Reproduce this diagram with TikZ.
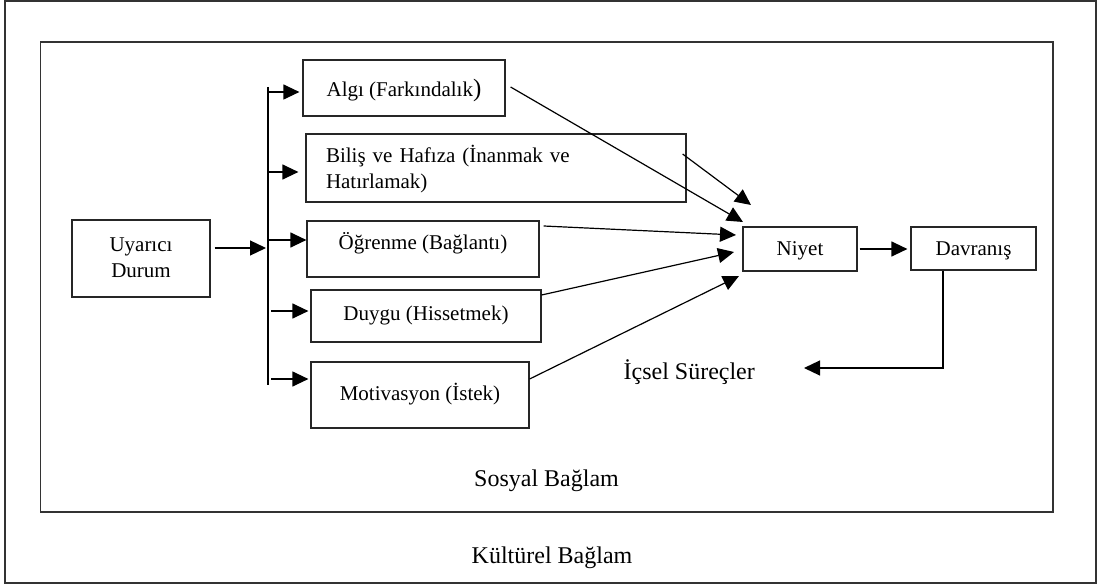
\documentclass[tikz,border=0pt]{standalone}
\usepackage{fontspec}
\setmainfont{Liberation Serif}
\usetikzlibrary{arrows.meta,calc}
\begin{document}
\begin{tikzpicture}[x=1pt,y=-1pt,
  line width=1.2pt,
  box/.style={draw=black!85, line width=1.2pt, inner sep=0pt,
    font=\fontsize{21}{25.5}\selectfont},
  arr/.style={draw=black, line width=1.2pt, -{Triangle[length=16pt,width=15pt]}},
  ctx/.style={font=\fontsize{24}{28}\selectfont, anchor=base, inner sep=0pt}]
\useasboundingbox (0,0) rectangle (1099,585);

% context frames
\draw[black!80, line width=1.3pt] (5,1) rectangle (1096,583);
\draw[black!80, line width=1.3pt] (40.5,42) rectangle (1053,512);
\node[ctx] (sosyal) at (546.5,486) {Sosyal Bağlam};
\node[ctx] (kultur) at (552,563) {Kültürel Bağlam};

% boxes
\node[box, minimum width=138pt, minimum height=77pt, align=center,
  text height=40pt, text depth=3pt] (uy) at (141,258.5) {Uyarıcı\\Durum};
\node[box, minimum width=202pt, minimum height=56pt,
  text height=20pt, text depth=2pt] (algi) at (404,88)
  {Algı (Farkındalık{\fontsize{25}{25}\selectfont)}};
\node[box, minimum width=380pt, minimum height=68pt, text width=340pt,
  inner xsep=20pt, align=left, text height=16pt, text depth=26pt] (bilis) at (496,168)
  {Biliş ve Hafıza (İnanmak ve\\Hatırlamak)};
\node[box, minimum width=232pt, minimum height=56pt,
  text height=16pt, text depth=14pt] (ogr) at (423,249) {Öğrenme (Bağlantı)};
\node[box, minimum width=230pt, minimum height=52pt,
  text height=16pt, text depth=8pt] (duygu) at (426,316) {Duygu (Hissetmek)};
\node[box, minimum width=218pt, minimum height=66pt,
  text height=16pt, text depth=6pt] (motiv) at (420,395) {Motivasyon (İstek)};
\node[box, minimum width=114pt, minimum height=44pt,
  text height=16pt, text depth=4pt] (niyet) at (800,249) {Niyet};
\node[box, minimum width=125pt, minimum height=43pt,
  text height=16pt, text depth=3pt] (davr) at (973.5,248.5) {Davranış};
\node[ctx, anchor=base west] (icsel) at (623,379) {İçsel Süreçler};

% distribution bus
\coordinate (bt) at (268,87);
\coordinate (bb) at (268,385);
\coordinate (bin) at (268,248);
\coordinate (b1) at (268,92);
\coordinate (b2) at (268,172);
\coordinate (b3) at (268,240);
\coordinate (b4) at (271,311);
\coordinate (b5) at (271,379);
\draw[black] (bt) -- (bb);
\draw[arr, shorten >=2pt] ([xshift=4pt,yshift=10.5pt]uy.east) -- (bin);
\draw[arr, shorten >=3pt] (b1) -- (b1 -| algi.west);
\draw[arr, shorten >=7pt] (b2) -- (b2 -| bilis.west);
\draw[arr] (b3) -- (b3 -| ogr.west);
\draw[arr, shorten >=2pt] (b4) -- (b4 -| duygu.west);
\draw[arr, shorten >=2pt] (b5) -- (b5 -| motiv.west);

% arrows converging on Niyet
\coordinate (n1) at (743,222);
\coordinate (n2) at (751,205);
\coordinate (n3) at (736,235);
\coordinate (n4) at (734,252);
\coordinate (n5) at (739,276);
\draw[arr] ([xshift=5pt,yshift=1pt]algi.east) -- (n1);
\draw[arr] ([xshift=-4pt,yshift=14pt]bilis.east) -- (n2);
\draw[arr] ([xshift=4pt,yshift=23pt]ogr.east) -- (n3);
\draw[arr] ([yshift=21pt]duygu.east) -- (n4);
\draw[arr] ([yshift=16pt]motiv.east) -- (n5);

% intention to behaviour, and feedback
\draw[arr, shorten <=2pt, shorten >=3pt] (niyet.east) -- (niyet.east -| davr.west);
\coordinate (fb) at (804,368);
\draw[arr] ([xshift=-30.5pt]davr.south) |- (fb);
\end{tikzpicture}
\end{document}
